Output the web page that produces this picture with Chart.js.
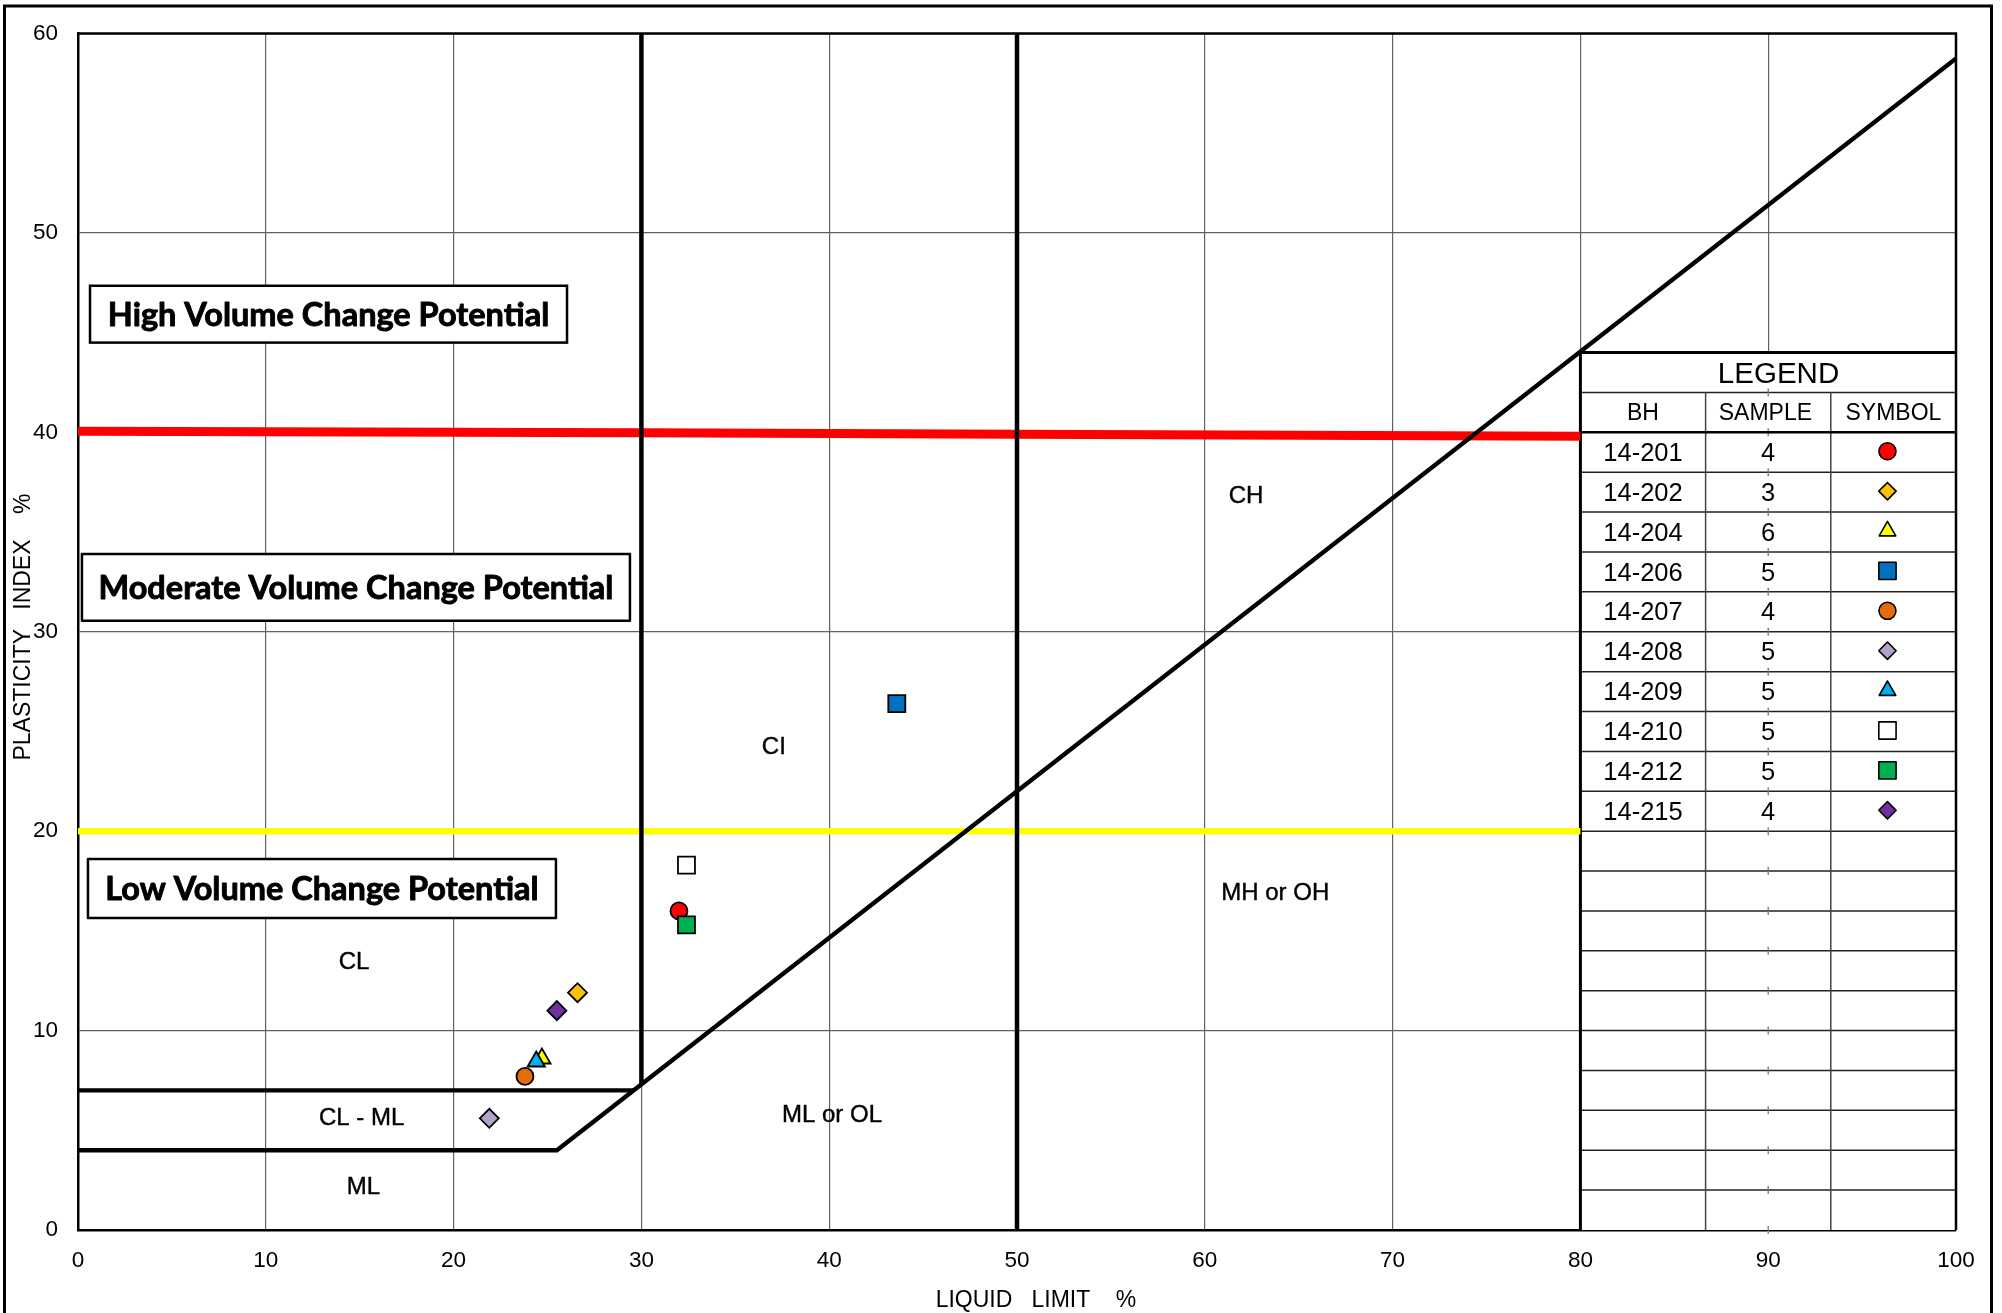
<!DOCTYPE html>
<html>
<head>
<meta charset="utf-8">
<title>Plasticity Chart</title>
<script src="https://cdn.jsdelivr.net/npm/chart.js@4.4.1/dist/chart.umd.min.js"></script>
<style>
  html, body { margin: 0; padding: 0; background: #fff; overflow: hidden; }
  canvas { display: block; }
</style>
</head>
<body>
<canvas id="plasticity" width="2002" height="1313"></canvas>
<script>
// ---- Axis ticks ----
const xTicks = [0, 10, 20, 30, 40, 50, 60, 70, 80, 90, 100];
const yTicks = [0, 10, 20, 30, 40, 50, 60];

// ---- Atterberg limit results ----
const boreholes       = ['14-201', '14-202', '14-204', '14-206', '14-207', '14-208', '14-209', '14-210', '14-212', '14-215'];
const sampleNos       = ['4', '3', '6', '5', '4', '5', '5', '5', '5', '4'];
const liquidLimit     = [32.0, 26.6, 24.7, 43.6, 23.8, 21.9, 24.4, 32.4, 32.4, 25.5];
const plasticityIndex = [16.0, 11.9, 8.6, 26.4, 7.7, 5.6, 8.45, 18.3, 15.3, 11.0];

// ---- Classification boundaries (liquid limit, plasticity index) ----
const aLine      = [[0, 4], [25.5, 4], [100, 58.75]];
const clmlUpper  = [[0, 7], [29.58, 7]];
const llThirty   = [[30, 7.31], [30, 60]];
const llFifty    = [[50, 0], [50, 60]];
const highLimit  = [[0, 40.05], [30, 39.98], [50, 39.9], [80, 39.8]];
const lowLimit   = [[0, 20], [80, 20]];

// ---- Zone labels ----
const zoneNames = ['CH', 'CI', 'MH or OH', 'ML or OL', 'CL', 'CL - ML', 'ML'];
const zoneAt    = [[62.2, 36.8], [37.05, 24.2], [63.75, 16.9], [40.15, 5.77], [14.7, 13.4], [15.1, 5.6], [15.2, 2.15]];

// ---- Volume change potential captions ----
const potentialNames = ['High Volume Change Potential', 'Moderate Volume Change Potential', 'Low Volume Change Potential'];
const potentialBoxes = [[0.64, 26.04, 47.35, 44.5], [0.21, 29.39, 33.9, 30.55], [0.53, 25.45, 18.6, 15.65]];

// ---- Marker styles per borehole ----
const markerShape  = ['circle', 'rectRot', 'triangle', 'rect', 'circle', 'rectRot', 'triangle', 'rect', 'rect', 'rectRot'];
const markerFill   = ['#FF0000', '#FFC000', '#FFFF00', '#0070C0', '#E46C0A', '#B3A2C7', '#00B0F0', '#FFFFFF', '#00B050', '#7030A0'];
const shapeRadius  = { circle: 8.5, rectRot: 9.5, triangle: 10, rect: 12 };
const legendRadius = { circle: 8.5, rectRot: 8.7, triangle: 9.6, rect: 12.2 };

const ARIAL = "'Liberation Sans', Arial, sans-serif";
Chart.defaults.font.family = ARIAL;
Chart.defaults.color = '#000';

const toPts = arr => arr.map(([x, y]) => ({ x, y }));
const lineSet = (pts, color, width, order) => ({
  type: 'line', data: toPts(pts), borderColor: color, borderWidth: width,
  pointRadius: 0, pointHoverRadius: 0, showLine: true, fill: false, tension: 0,
  borderCapStyle: 'butt', borderJoinStyle: 'miter', order
});

const datasets = [
  ...boreholes.map((bh, i) => ({
    label: bh,
    data: [{ x: liquidLimit[i], y: plasticityIndex[i] }],
    pointStyle: markerShape[i],
    pointRadius: shapeRadius[markerShape[i]],
    pointHoverRadius: shapeRadius[markerShape[i]],
    pointBackgroundColor: markerFill[i],
    pointBorderColor: '#000',
    pointBorderWidth: 1.8,
    backgroundColor: markerFill[i],
    borderColor: '#000',
    order: boreholes.length - i
  })),
  lineSet(highLimit, '#FF0000', 9, 40),
  lineSet(lowLimit, '#FFFF00', 6.5, 41),
  lineSet(aLine, '#000', 4.3, 30),
  lineSet(clmlUpper, '#000', 4.3, 31),
  lineSet(llThirty, '#000', 4.5, 32),
  lineSet(llFifty, '#000', 4.5, 33)
];

function drawPointShape(ctx, style, radius, x, y, fill) {
  ctx.save();
  ctx.fillStyle = fill;
  ctx.strokeStyle = '#000';
  ctx.lineWidth = 1.6;
  Chart.helpers.drawPoint(ctx, { pointStyle: style, rotation: 0, radius, borderWidth: 1.6 }, x, y);
  ctx.restore();
}

const chartDecor = {
  id: 'chartDecor',
  beforeDraw(chart) {
    const { ctx, width, height } = chart;
    ctx.save();
    ctx.fillStyle = '#fff';
    ctx.fillRect(0, 0, width, height);
    // outer frame
    ctx.strokeStyle = '#000';
    ctx.lineWidth = 3;
    ctx.beginPath();
    ctx.moveTo(4.5, height + 5);
    ctx.lineTo(4.5, 6);
    ctx.lineTo(1991.5, 6);
    ctx.lineTo(1991.5, height + 5);
    ctx.stroke();
    ctx.restore();
  },
  beforeDatasetsDraw(chart) {
    const { ctx } = chart;
    const X = v => chart.scales.x.getPixelForValue(v);
    const Y = v => chart.scales.y.getPixelForValue(v);
    ctx.save();

    // captions in framed boxes
    potentialNames.forEach((name, i) => {
      const [x0, x1, y0, y1] = potentialBoxes[i];
      const l = X(x0), r = X(x1), t = Y(y0), b = Y(y1);
      ctx.fillStyle = '#fff';
      ctx.fillRect(l, t, r - l, b - t);
      ctx.strokeStyle = '#000';
      ctx.lineWidth = 2.5;
      ctx.strokeRect(l, t, r - l, b - t);
      ctx.fillStyle = '#000';
      ctx.font = "bold 32.5px Lato, 'Open Sans', sans-serif";
      ctx.textAlign = 'center';
      ctx.textBaseline = 'middle';
      ctx.lineWidth = 0.9;
      ctx.lineJoin = 'round';
      ctx.fillText(name, (l + r) / 2, (t + b) / 2 + 1);
      ctx.strokeText(name, (l + r) / 2, (t + b) / 2 + 1);
    });

    // legend table
    const cols = [80, 86.667, 93.333, 100];
    const L = X(80), R = X(100), T = Y(44), B = Y(0);
    ctx.fillStyle = '#fff';
    ctx.fillRect(L, T, R - L, B - T);

    ctx.strokeStyle = '#222';
    ctx.lineWidth = 1.5;
    for (let v = 38; v >= 2; v -= 2) {
      ctx.beginPath(); ctx.moveTo(L, Y(v)); ctx.lineTo(R, Y(v)); ctx.stroke();
    }
    ctx.beginPath(); ctx.moveTo(L, Y(42)); ctx.lineTo(R, Y(42)); ctx.stroke();
    ctx.strokeStyle = '#444';
    [cols[1], cols[2]].forEach(c => {
      ctx.beginPath(); ctx.moveTo(X(c), Y(42)); ctx.lineTo(X(c), B); ctx.stroke();
    });
    // remnants of the 90 grid line at each rule
    ctx.strokeStyle = '#777';
    ctx.lineWidth = 1.3;
    for (let v = 42; v >= 0; v -= 2) {
      ctx.beginPath(); ctx.moveTo(X(90), Y(v) - 4); ctx.lineTo(X(90), Y(v) + 4); ctx.stroke();
    }
    ctx.strokeStyle = '#000';
    ctx.lineWidth = 2.5;
    ctx.beginPath(); ctx.moveTo(L, Y(40)); ctx.lineTo(R, Y(40)); ctx.stroke();
    ctx.lineWidth = 3;
    ctx.beginPath(); ctx.moveTo(L, B); ctx.lineTo(L, T); ctx.lineTo(R, T); ctx.stroke();

    ctx.fillStyle = '#000';
    ctx.textAlign = 'center';
    ctx.textBaseline = 'middle';
    ctx.font = '29.5px ' + ARIAL;
    ctx.fillText('LEGEND', X(90.55), Y(42.88));
    ctx.font = '23px ' + ARIAL;
    ['BH', 'SAMPLE', 'SYMBOL'].forEach((h, k) => {
      ctx.fillText(h, X((cols[k] + cols[k + 1]) / 2 - (k === 1 ? 0.15 : 0)), Y(40.95));
    });
    ctx.font = '25.5px ' + ARIAL;
    boreholes.forEach((bh, i) => {
      const yc = 39 - 2 * i;
      ctx.fillStyle = '#000';
      ctx.fillText(bh, X((cols[0] + cols[1]) / 2), Y(yc - 0.08));
      ctx.fillText(sampleNos[i], X((cols[1] + cols[2]) / 2), Y(yc - 0.08));
      drawPointShape(ctx, markerShape[i], legendRadius[markerShape[i]], X(96.35), Y(yc + 0.05), markerFill[i]);
    });
    ctx.restore();
  },
  afterDatasetsDraw(chart) {
    const { ctx, chartArea } = chart;
    const X = v => chart.scales.x.getPixelForValue(v);
    const Y = v => chart.scales.y.getPixelForValue(v);
    ctx.save();
    // top and right frame of the plot area
    ctx.strokeStyle = '#000';
    ctx.lineWidth = 2.5;
    ctx.beginPath();
    ctx.moveTo(chartArea.left, chartArea.top);
    ctx.lineTo(chartArea.right, chartArea.top);
    ctx.lineTo(chartArea.right, chartArea.bottom);
    ctx.stroke();

    // zone labels
    ctx.fillStyle = '#000';
    ctx.strokeStyle = '#000';
    ctx.textAlign = 'center';
    ctx.textBaseline = 'middle';
    ctx.font = '24px ' + ARIAL;
    ctx.lineWidth = 0.4;
    zoneNames.forEach((z, i) => {
      ctx.fillText(z, X(zoneAt[i][0]), Y(zoneAt[i][1]));
      ctx.strokeText(z, X(zoneAt[i][0]), Y(zoneAt[i][1]));
    });

    // axis titles
    ctx.font = '23px ' + ARIAL;
    ctx.fillText('LIQUID   LIMIT    %', 1036, 1301);
    ctx.translate(24, 627);
    ctx.rotate(-Math.PI / 2);
    ctx.fillText('PLASTICITY   INDEX    %', 0, 0);
    ctx.restore();
  }
};

new Chart(document.getElementById('plasticity'), {
  type: 'scatter',
  data: { datasets },
  options: {
    responsive: false,
    animation: false,
    devicePixelRatio: 1,
    layout: { padding: { left: 0, right: 46, top: 28, bottom: 0 } },
    plugins: { legend: { display: false }, tooltip: { enabled: false } },
    events: [],
    scales: {
      x: {
        type: 'linear', min: 0, max: 100,
        afterBuildTicks: s => { s.ticks = xTicks.map(v => ({ value: v })); },
        afterFit: s => { s.height = 83; },
        ticks: { font: { size: 22.5 }, color: '#000', padding: 17, maxRotation: 0, autoSkip: false },
        grid: { color: '#626262', lineWidth: 1.2, drawTicks: false },
        border: { display: true, color: '#000', width: 2.5 }
      },
      y: {
        type: 'linear', min: 0, max: 60,
        afterBuildTicks: s => { s.ticks = yTicks.map(v => ({ value: v })); },
        afterFit: s => { s.width = 78; },
        ticks: { font: { size: 22.5 }, color: '#000', padding: 20, autoSkip: false },
        grid: { color: '#626262', lineWidth: 1.2, drawTicks: false },
        border: { display: true, color: '#000', width: 2.5 }
      }
    }
  },
  plugins: [chartDecor]
});
</script>
</body>
</html>
